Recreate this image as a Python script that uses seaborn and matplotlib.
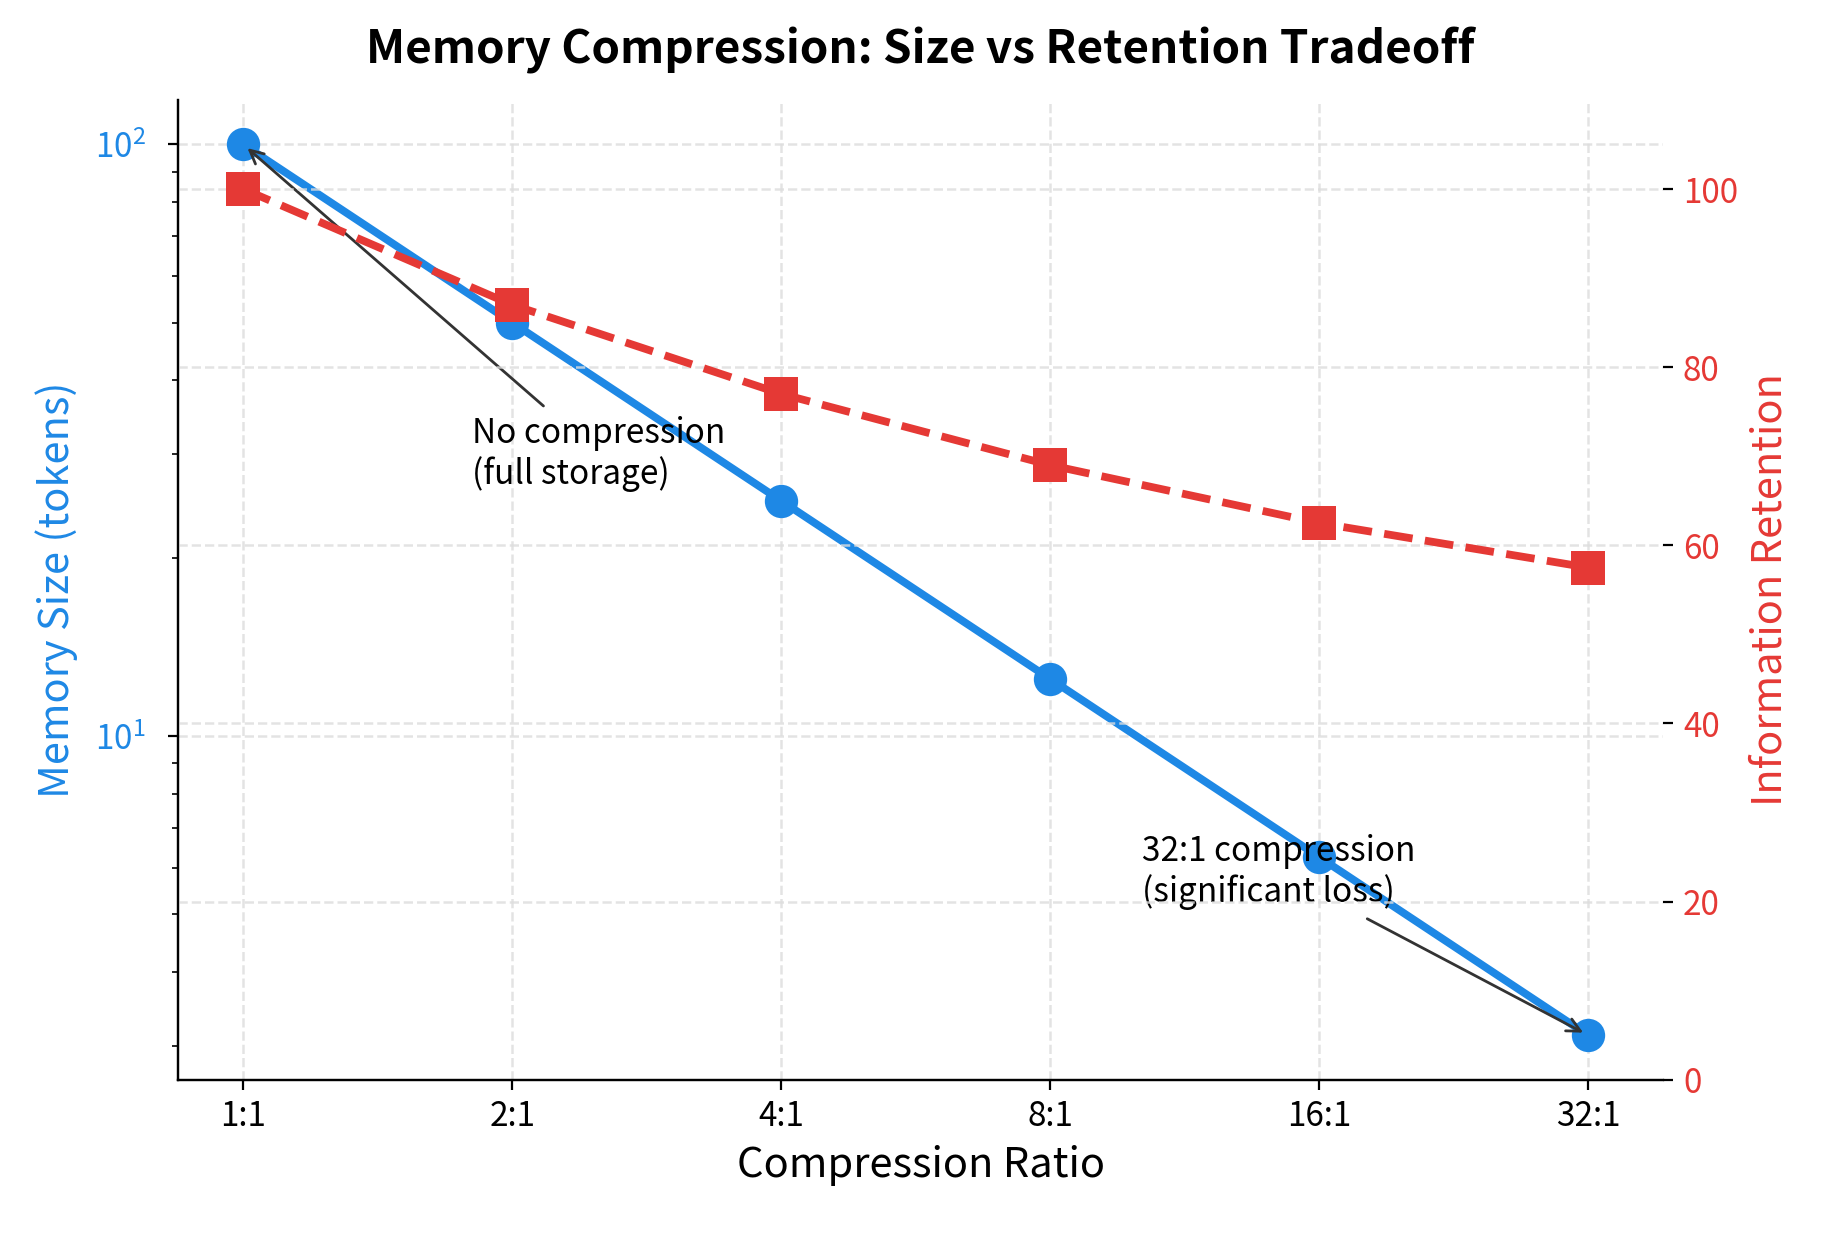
import matplotlib
matplotlib.use("Agg")
import matplotlib.pyplot as plt
import seaborn as sns
import numpy as np

# data
ratios = ['1:1', '2:1', '4:1', '8:1', '16:1', '32:1']
memory_size = [100, 50, 25, 12.5, 6.25, 3.125]
retention = [100, 87, 77, 69, 62.5, 57.5]

blue = '#1E88E5'
red = '#E53935'

sns.set_style('ticks')
plt.rcParams['font.family'] = ['Noto Sans CJK JP', 'DejaVu Sans']
plt.rcParams['mathtext.fontset'] = 'custom'
plt.rcParams['mathtext.rm'] = 'Noto Sans CJK JP'
plt.rcParams['mathtext.it'] = 'Noto Sans CJK JP'
plt.rcParams['text.color'] = 'black'
plt.rcParams['axes.labelcolor'] = 'black'
plt.rcParams['axes.edgecolor'] = 'black'
plt.rcParams['xtick.color'] = 'black'
plt.rcParams['ytick.color'] = 'black'

fig, ax = plt.subplots(figsize=(9.17, 6.17), dpi=200)
fig.subplots_adjust(left=0.097, right=0.907, bottom=0.125, top=0.919)
ax2 = ax.twinx()

x = np.arange(len(ratios))

sns.lineplot(x=x, y=memory_size, ax=ax, color=blue, linewidth=2.8,
             marker='o', markersize=12, markeredgewidth=0, zorder=3)
sns.lineplot(x=x, y=retention, ax=ax2, color=red, linewidth=2.8,
             linestyle='--', marker='s', markersize=12, markeredgewidth=0, zorder=3)

ax.set_yscale('log')
ax2.set_ylim(0, 110)
ax.set_xlim(-0.243, 5.28)
ax.set_xticks(x)
ax.set_xticklabels(ratios)

ax.grid(True, linestyle='--', color='#dddddd', linewidth=0.9, alpha=0.8)
ax2.grid(True, axis='y', linestyle='--', color='#dddddd', linewidth=0.9, alpha=0.8)

ax.set_xlabel('Compression Ratio', fontsize=15)
ax.set_ylabel('Memory Size (tokens)', fontsize=15, color=blue, labelpad=6)
ax2.set_ylabel('Information Retention', fontsize=15, color=red)
ax.tick_params(axis='y', which='both', labelcolor=blue, labelsize=12, pad=8)
ax.tick_params(axis='x', labelsize=12)
ax2.tick_params(axis='y', labelcolor=red, labelsize=12)

for a in (ax, ax2):
    a.spines['top'].set_visible(False)
    a.spines['right'].set_visible(False)

ax.set_title('Memory Compression: Size vs Retention Tradeoff',
             fontsize=16.5, fontweight='bold', pad=13)

ax.annotate('No compression\n(full storage)', xy=(0, 100), xytext=(0.85, 30),
            ha='left', va='center', fontsize=12,
            arrowprops=dict(arrowstyle='->', color='#333333', lw=1.0))
ax.annotate('32:1 compression\n(significant loss)', xy=(5, 3.125), xytext=(3.34, 5.9),
            ha='left', va='center', fontsize=12,
            arrowprops=dict(arrowstyle='->', color='#333333', lw=1.0))

plt.savefig('out.png', dpi=200)
